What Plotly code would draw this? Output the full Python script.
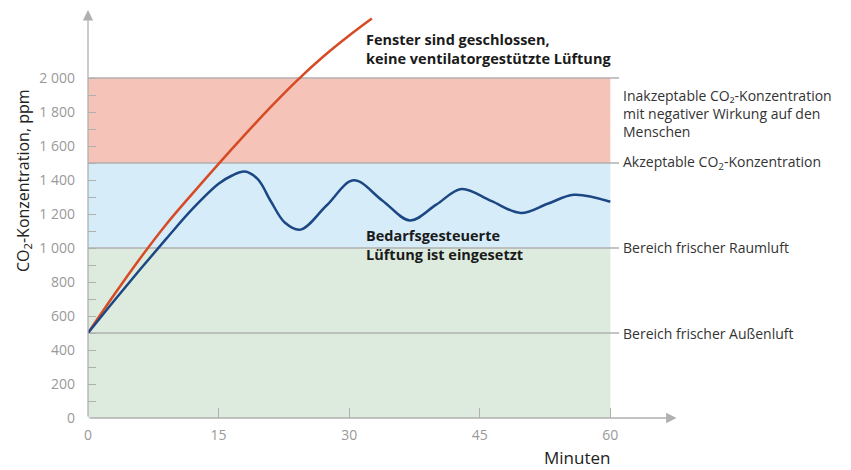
import plotly.graph_objects as go

# Data
minutes_red = [0, 3, 6, 9, 12, 15, 18, 21, 24, 27, 30, 32.6]
co2_red = [500, 725, 940, 1140, 1320, 1495, 1665, 1830, 1985, 2125, 2250, 2350]

minutes_blue = [0, 3, 6, 9, 12, 15, 16.5, 18, 19.5, 21, 22.6, 24.4, 27.4, 30.5,
                33.8, 37, 40, 42.9, 46.3, 49.7, 52.8, 55.8, 60]
co2_blue = [500, 690, 875, 1055, 1230, 1378, 1425, 1450, 1405, 1275, 1150, 1108,
            1250, 1398, 1280, 1162, 1255, 1347, 1277, 1206, 1260, 1313, 1272]

x_ticks = [0, 15, 30, 45, 60]
y_ticks = [0, 200, 400, 600, 800, 1000, 1200, 1400, 1600, 1800, 2000]
y_ticktext = ["0", "200", "400", "600", "800", "1 000", "1 200", "1 400", "1 600", "1 800", "2 000"]
y_minor = [100, 300, 500, 700, 900, 1100, 1300, 1500, 1700, 1900]

bands = [  # (low, high, colour)
    (0, 1000, "#dcebdd"),
    (1000, 1500, "#d6ecf8"),
    (1500, 2000, "#f6c3b8"),
]
band_lines = [500, 1000, 1500, 2000]

zone_labels = [
    (1793, "Inakzeptable CO₂-Konzentration<br>mit negativer Wirkung auf den<br>Menschen"),
    (1505, "Akzeptable CO<sub>2</sub>-Konzentration"),
    (1002, "Bereich frischer Raumluft"),
    (500, "Bereich frischer Außenluft"),
]

curve_notes = [
    (2171, "Fenster sind geschlossen,<br>keine ventilatorgestützte Lüftung"),
    (1016, "Bedarfsgesteuerte<br>Lüftung ist eingesetzt"),
]

FONT = "Open Sans"
GRAY = "#b0b0b0"

fig = go.Figure()

fig.add_trace(go.Scatter(x=minutes_red, y=co2_red, mode="lines",
                         line=dict(color="#d64a24", width=2.5, shape="spline", smoothing=1),
                         hoverinfo="skip", showlegend=False))
fig.add_trace(go.Scatter(x=minutes_blue, y=co2_blue, mode="lines",
                         line=dict(color="#1c4785", width=2.5, shape="spline", smoothing=1),
                         hoverinfo="skip", showlegend=False))

shapes = []
for lo, hi, col in bands:
    shapes.append(dict(type="rect", xref="x", yref="y", x0=0, x1=60, y0=lo, y1=hi,
                       fillcolor=col, line=dict(width=0), layer="below"))
for yv in band_lines:
    shapes.append(dict(type="line", xref="x", yref="y", x0=0, x1=61.0, y0=yv, y1=yv,
                       line=dict(color=GRAY, width=1.3), layer="below"))

annotations = []
# axis arrows
annotations.append(dict(x=0, y=2400, ax=0, ay=0, xref="x", yref="y", axref="x", ayref="y",
                        text="", showarrow=True, arrowhead=2, arrowsize=1.6, arrowwidth=1.3,
                        arrowcolor=GRAY, standoff=0, startstandoff=0))
annotations.append(dict(x=67.6, y=0, ax=0, ay=0, xref="x", yref="y", axref="x", ayref="y",
                        text="", showarrow=True, arrowhead=2, arrowsize=1.6, arrowwidth=1.3,
                        arrowcolor=GRAY, standoff=0, startstandoff=0))

for yv, txt in zone_labels:
    annotations.append(dict(x=61.2, y=yv, xref="x", yref="y", text=txt, showarrow=False,
                            xanchor="left", yanchor="middle", align="left",
                            font=dict(family=FONT, size=14, color="#333333")))

for yv, txt in curve_notes:
    annotations.append(dict(x=31.7, y=yv, xref="x", yref="y", text="<b>" + txt + "</b>",
                            showarrow=False, xanchor="left", yanchor="middle", align="left",
                            font=dict(family=FONT, size=14.5, color="#1a1a1a")))

annotations.append(dict(x=-0.1098, y=1400, xref="paper", yref="y",
                        text="CO<sub>2</sub>-Konzentration, ppm", textangle=-90,
                        showarrow=False, xanchor="center", yanchor="middle",
                        font=dict(family=FONT, size=16, color="#222222")))
annotations.append(dict(x=56.2, y=-0.098, xref="x", yref="paper",
                        text="Minuten", showarrow=False, xanchor="center", yanchor="middle",
                        font=dict(family=FONT, size=17, color="#222222")))

fig.update_layout(
    width=851, height=470,
    margin=dict(l=80, r=179, t=2, b=60),
    paper_bgcolor="white", plot_bgcolor="white",
    shapes=shapes, annotations=annotations,
    font=dict(family=FONT),
    xaxis=dict(range=[0, 68], showgrid=False, zeroline=False, showline=False,
               tickmode="array", tickvals=x_ticks, ticks="inside", ticklen=10,
               tickcolor=GRAY, tickwidth=1, ticklabelstandoff=7,
               tickfont=dict(family=FONT, size=14, color="#999999")),
    yaxis=dict(range=[0, 2400], showgrid=False, zeroline=False, showline=False,
               tickmode="array", tickvals=y_ticks, ticktext=y_ticktext,
               ticks="inside", ticklen=8, tickcolor=GRAY, tickwidth=1,
               ticklabelstandoff=12,
               tickfont=dict(family=FONT, size=14, color="#999999"),
               minor=dict(tickmode="array", tickvals=y_minor, ticks="inside",
                          ticklen=8, tickcolor=GRAY, tickwidth=1, showgrid=False)),
)

fig.write_html("out.html")
